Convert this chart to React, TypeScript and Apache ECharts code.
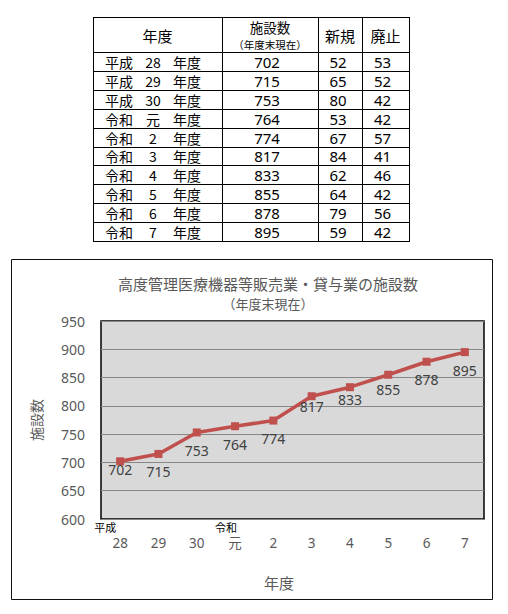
import React, { useEffect, useRef } from "react";
import * as echarts from "echarts";

// ---- data ----
const years = ["28", "29", "30", "元", "2", "3", "4", "5", "6", "7"];
const eras = ["平成", "平成", "平成", "令和", "令和", "令和", "令和", "令和", "令和", "令和"];
const facilities = [702, 715, 753, 764, 774, 817, 833, 855, 878, 895];
const newCounts = [52, 65, 80, 53, 67, 84, 62, 64, 79, 59];
const closedCounts = [53, 52, 42, 42, 57, 41, 46, 42, 56, 42];
const yMin = 600;
const yMax = 950;
const yStep = 50;
const chartTitle = "高度管理医療機器等販売業・貸与業の施設数";
const chartSubtitle = "（年度末現在）";
const yName = "施設数";
const xName = "年度";
const headYear = "年度";
const headCount = "施設数";
const headCountSub = "（年度末現在）";
const headNew = "新規";
const headClosed = "廃止";
const yearSuffix = "年度";

const CJK = "'Noto Sans CJK JP', 'Noto Sans', sans-serif";
const LATIN = "'Noto Sans', 'Noto Sans CJK JP', sans-serif";

function buildTable(): any[] {
  const colX = [93, 222, 318, 362, 409];
  const headTop = 17;
  const headBottom = 52;
  const rowH = 18.9;
  const n = years.length;
  const bottom = headBottom + rowH * n;
  const els: any[] = [];
  const crisp = (v: number) => Math.round(v) + 0.5;
  const hys = [headTop, headBottom];
  for (let i = 1; i <= n; i++) hys.push(headBottom + rowH * i);
  hys.forEach((y) =>
    els.push({
      type: "line",
      shape: { x1: colX[0], y1: crisp(y), x2: colX[4] + 1, y2: crisp(y) },
      style: { stroke: "#000", lineWidth: 1 },
    })
  );
  colX.forEach((x) =>
    els.push({
      type: "line",
      shape: { x1: crisp(x), y1: crisp(headTop), x2: crisp(x), y2: crisp(bottom) },
      style: { stroke: "#000", lineWidth: 1 },
    })
  );
  const txt = (text: string, x: number, y: number, size: number, align = "center", family = CJK) => ({
    type: "text",
    x,
    y,
    style: {
      text,
      fill: "#000",
      fontSize: size,
      fontFamily: family,
      textAlign: align,
      align,
      textVerticalAlign: "middle",
      verticalAlign: "middle",
    },
  });
  const c = (i: number) => (colX[i] + colX[i + 1]) / 2;
  els.push(txt(headYear, c(0), 35, 15));
  els.push(txt(headCount, c(1), 27, 13.5));
  els.push(txt(headCountSub, c(1), 44, 10.5));
  els.push(txt(headNew, c(2), 35, 15));
  els.push(txt(headClosed, c(3), 35, 15));
  years.forEach((yr, i) => {
    const cy = headBottom + rowH * i + rowH / 2 + 0.5;
    els.push(txt(eras[i], 105, cy, 14, "left"));
    els.push(txt(yr, 153, cy, 14));
    els.push(txt(yearSuffix, 173, cy, 14, "left"));
    els.push(txt(String(facilities[i]), c(1) - 3, cy, 15, "center", LATIN));
    els.push(txt(String(newCounts[i]), c(2) - 2, cy, 15, "center", LATIN));
    els.push(txt(String(closedCounts[i]), c(3) - 3, cy, 15, "center", LATIN));
  });
  return els;
}

export default function App() {
  const ref = useRef<HTMLDivElement>(null);
  useEffect(() => {
    document.body.style.margin = "0";
    if (!ref.current) return;
    const chart = echarts.init(ref.current, undefined, { renderer: "svg" });

    // label offsets below points (a few labels sit closer as in reference)
    const labelShift: Record<number, number> = { 0: -10, 5: -8, 6: -5.5, 7: -3 };
    const seriesData = facilities.map((v, i) =>
      labelShift[i] !== undefined ? { value: v, label: { offset: [0, labelShift[i]] } } : v
    );

    const option: any = {
      animation: false,
      backgroundColor: "#ffffff",
      title: {
        text: chartTitle,
        subtext: chartSubtitle,
        left: 268,
        top: 276,
        textAlign: "center",
        itemGap: 6,
        padding: 0,
        textStyle: { fontSize: 15, fontWeight: "normal", color: "#595959", fontFamily: CJK },
        subtextStyle: { fontSize: 13, color: "#595959", fontFamily: CJK },
      },
      grid: {
        left: 101,
        top: 321,
        width: 383,
        height: 198,
        show: true,
        backgroundColor: "#d9d9d9",
        borderColor: "#000",
        borderWidth: 1.5,
        containLabel: false,
      },
      xAxis: {
        type: "category",
        data: years,
        boundaryGap: true,
        axisLine: { show: false },
        axisTick: { show: false },
        name: xName,
        nameLocation: "middle",
        nameGap: 56,
        nameTextStyle: { fontSize: 15, color: "#595959", fontFamily: CJK, padding: [0, 27, 0, 0] },
        axisLabel: {
          interval: 0,
          margin: 1,
          formatter: (value: string, idx: number) => {
            const first = idx === 0 || eras[idx] !== eras[idx - 1];
            if (first) return `{era${idx === 0 ? "A" : "B"}|${eras[idx]}}\n{num|${value}}`;
            return `{blank| }\n{num|${value}}`;
          },
          rich: {
            eraA: { fontSize: 11, color: "#000", fontFamily: CJK, lineHeight: 13, padding: [0, 30, 0, 0] },
            eraB: { fontSize: 11, color: "#000", fontFamily: CJK, lineHeight: 13, padding: [0, 18, 0, 0] },
            blank: { fontSize: 11, lineHeight: 13 },
            num: { fontSize: 13.5, color: "#595959", fontFamily: LATIN, lineHeight: 19 },
          },
        },
      },
      yAxis: {
        type: "value",
        min: yMin,
        max: yMax,
        interval: yStep,
        axisLine: { show: false },
        axisTick: { show: false },
        splitLine: { show: true, lineStyle: { color: "#878787", width: 1 } },
        axisLabel: { fontSize: 14, color: "#595959", margin: 16, fontFamily: LATIN },
        name: yName,
        nameLocation: "middle",
        nameRotate: 90,
        nameGap: 58,
        nameTextStyle: { fontSize: 14, color: "#595959", fontFamily: CJK },
      },
      series: [
        {
          type: "line",
          data: seriesData,
          color: "#c0504d",
          lineStyle: { width: 3.5, color: "#c0504d" },
          itemStyle: { color: "#c0504d" },
          symbol: "rect",
          symbolSize: 8,
          label: {
            show: true,
            position: "bottom",
            distance: 7,
            fontSize: 14,
            color: "#404040",
            fontFamily: LATIN,
          },
        },
      ],
      graphic: [
        ...buildTable(),
        {
          type: "rect",
          shape: { x: 11.5, y: 259.5, width: 481, height: 340 },
          style: { fill: "none", stroke: "#111", lineWidth: 1 },
          z: 10,
        },
      ],
    };
    chart.setOption(option);
    return () => chart.dispose();
  }, []);
  return <div ref={ref} style={{ width: 508, height: 614 }} />;
}
